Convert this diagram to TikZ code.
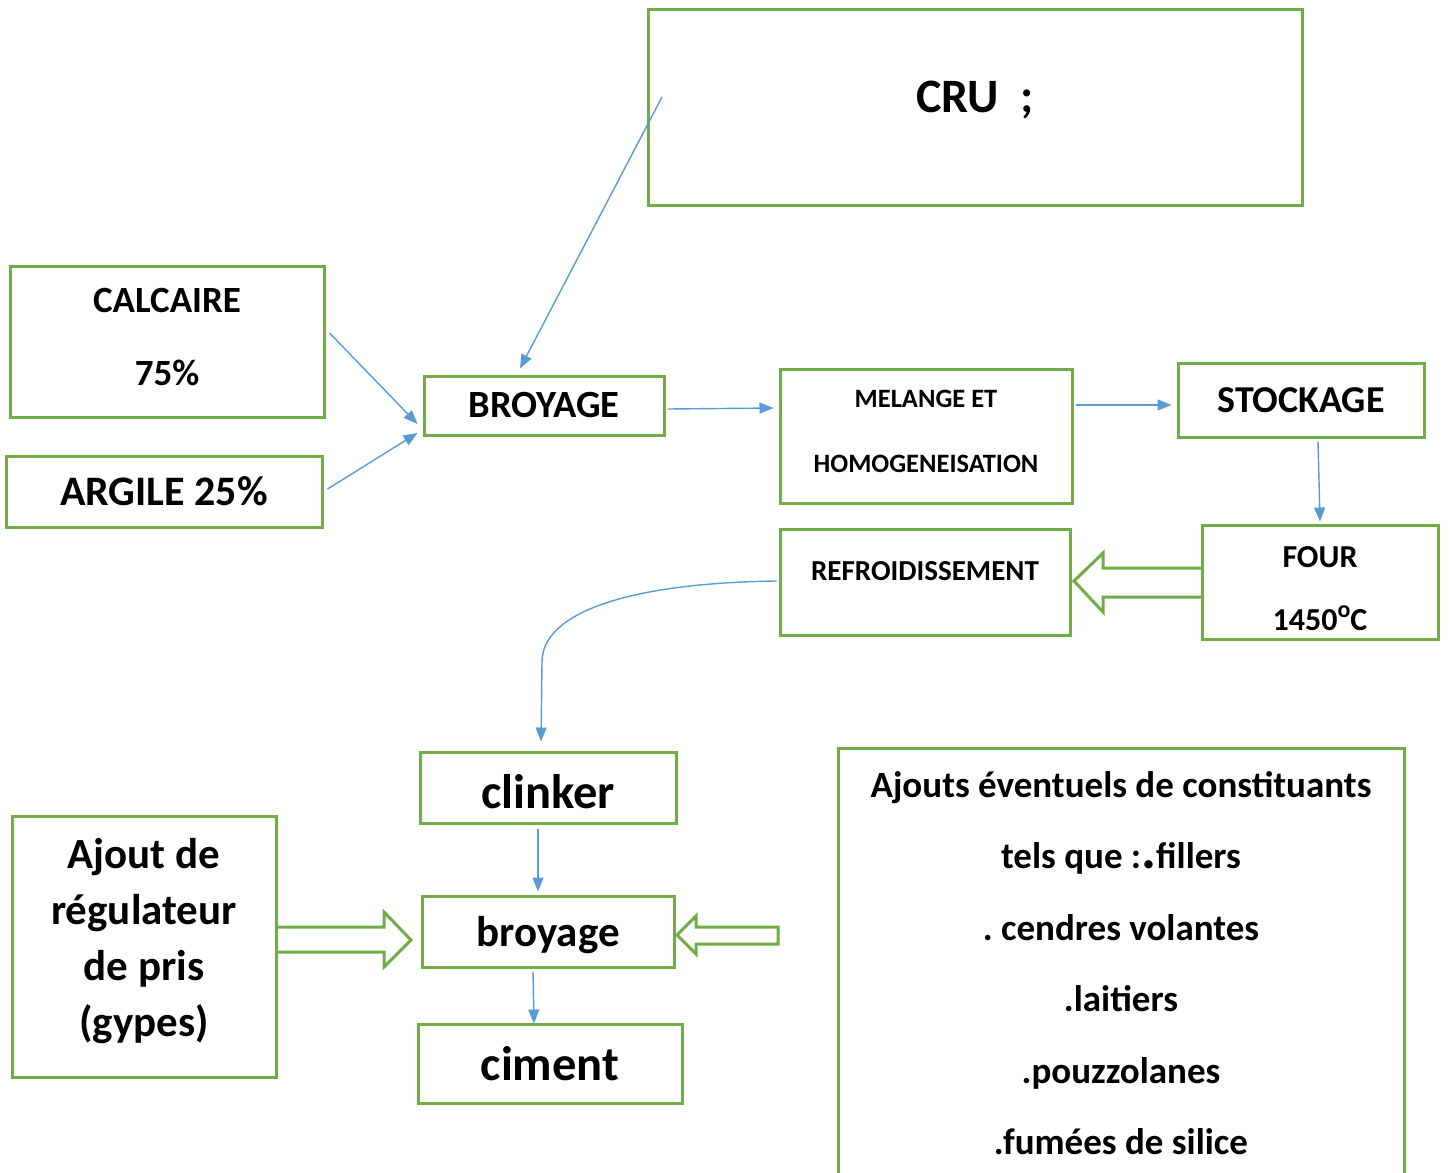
\documentclass[tikz,border=0pt]{standalone}
\usepackage{fontspec}
\setmainfont{Carlito}
\usetikzlibrary{arrows.meta,calc}
\definecolor{boxgreen}{RGB}{112,173,71}
\definecolor{linkblue}{RGB}{91,155,213}
\tikzset{
  box/.style={draw=boxgreen, line width=3pt, inner sep=0pt},
  txt/.style={align=center, inner sep=0pt, font=\bfseries},
  link/.style={draw=linkblue, line width=1.4pt, -{Triangle[length=14pt,width=11pt]}},
  fatarrow/.style={draw=boxgreen, line width=3pt, line join=miter},
}
\newcommand{\fsz}[2]{\fontsize{#1}{#2}\selectfont}
\frenchspacing

\begin{document}
\begin{tikzpicture}[x=1pt,y=1pt,yscale=-1]
  \useasboundingbox (0,0) rectangle (1450,1172);

  %Boxes: raw materials
  \node[box, minimum width=654, minimum height=195] (cru) at (975,107.5) {};
  \node[box, minimum width=314, minimum height=151] (calcaire) at (167,341.5) {};
  \node[box, minimum width=316, minimum height=71] (argile) at (164,491.5) {};
  \node[box, minimum width=240, minimum height=59] (broyage) at (544,405.5) {};
  % Boxes: process line
  \node[box, minimum width=292, minimum height=134] (melange) at (926,436) {};
  \node[box, minimum width=246, minimum height=74] (stockage) at (1301,400) {};
  \node[box, minimum width=236, minimum height=114] (four) at (1320,582) {};
  \node[box, minimum width=290, minimum height=106] (refroid) at (925,582) {};
  % Boxes: cement
  \node[box, minimum width=256, minimum height=71] (clinker) at (548,787.5) {};
  \node[box, minimum width=252, minimum height=71] (broy) at (548,931.5) {};
  \node[box, minimum width=264, minimum height=79] (ciment) at (550,1063.5) {};
  \node[box, minimum width=264, minimum height=261] (gypse) at (144,946.5) {};
  \node[box, minimum width=566, minimum height=430] (ajouts) at (1121,963) {};

  % Text Nodes
  \node[txt, font=\bfseries\fsz{48}{56}] (crutxt) at (975,100) {CRU\ \ ;};
  \node[txt, font=\bfseries\fsz{37}{73}] (calcairetxt) at ($(calcaire)+(0,-4.5)$) {CALCAIRE\\75\%};
  \node[txt, font=\bfseries\fsz{42}{50}] (argiletxt) at (argile) {ARGILE 25\%};
  \node[txt, font=\bfseries\fsz{38.5}{44}] (broyagetxt) at (broyage) {BROYAGE};
  \node[txt, font=\bfseries\fsz{26.5}{65}] (melangetxt) at ($(melange)+(0,-5)$) {MELANGE ET\\HOMOGENEISATION};
  \node[txt, font=\bfseries\fsz{38}{44}] (stockagetxt) at (stockage) {STOCKAGE};
  \node[txt, font=\bfseries\fsz{32}{63}] (fourtxt) at ($(four)+(0,7)$) {FOUR\\1450\raisebox{.42em}{\fsz{24}{24}o}C};
  \node[txt, font=\bfseries\fsz{29}{34}] (refroidtxt) at (925,571) {REFROIDISSEMENT};
  \node[txt, font=\bfseries\fsz{48.5}{56}] (clinkertxt) at ($(clinker)+(0,4)$) {clinker};
  \node[txt, font=\bfseries\fsz{43}{52}] (broytxt) at ($(broy)+(0,4)$) {broyage};
  \node[txt, font=\bfseries\fsz{48.5}{56}] (cimenttxt) at (ciment) {ciment};
  \node[txt, font=\bfseries\fsz{43}{56}] (gypsetxt) at ($(gypse)+(0,-5)$) {Ajout de\\régulateur\\de pris\\(gypes)};
  \node[txt, font=\bfseries\fsz{37}{71.5}] (ajoutstxt) at (ajouts) {Ajouts éventuels de constituants\\tels que :{\fsz{56}{56}.}fillers\\. cendres volantes\\.laitiers\\.pouzzolanes\\.fumées de silice};

  %Straight Lines
  \coordinate (crustart) at (662,97);
  \draw[link] (crustart) -- ($(broyage.north)+(-24,-6)$);
  \draw[link] ($(calcaire.east)+(4,-8.5)$) -- ($(broyage.west)+(-5,18.5)$);
  \draw[link] ($(argile.east)+(4,-2.5)$) -- ($(broyage.west)+(-5,27.5)$);
  \draw[link] ($(broyage.east)+(2,3.5)$) -- ($(melange.west)+(-5,-28)$);
  \draw[link] ($(melange.east)+(2,-31)$) -- ($(stockage.west)+(-5,5)$);
  \draw[link] ($(stockage.south)+(17,3)$) -- ($(four.north)+(0,-2)$);
  %Curve
  \draw[link] ($(refroid.west)+(-2,-1)$) .. controls (630,583) and (542,612) .. (542,662) -- ($(clinker.north)+(-7,-9)$);
  \draw[link] ($(clinker.south)+(-10,4)$) -- ($(broy.north)+(-10,-3)$);
  \draw[link] ($(broy.south)+(-15,3)$) -- ($(ciment.north)+(-16,1)$);

  %Shape: block arrows
  \draw[fatarrow] (1202,568) -- (1103,568) -- (1103,553) -- (1074,581) -- (1103,612) -- (1103,597) -- (1202,597);
  \draw[fatarrow] (277,927) -- (384,927) -- (384,912) -- (411,940) -- (384,967) -- (384,952) -- (277,952);
  \draw[fatarrow] (778,927) -- (696,927) -- (696,916) -- (677,935) -- (696,954) -- (696,944) -- (778,944) -- cycle;
\end{tikzpicture}
\end{document}
